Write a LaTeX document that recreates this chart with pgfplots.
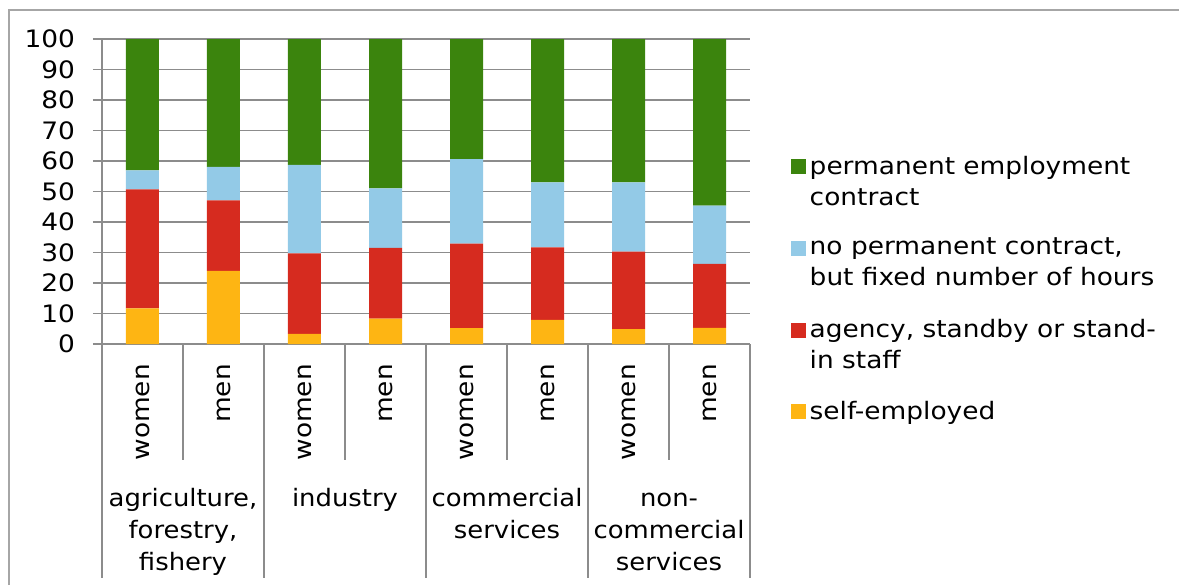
\documentclass[border=0pt]{standalone}
\usepackage{pgfplots}
\pgfplotsset{compat=1.18}
\usepackage{fontspec}
\setmainfont{DejaVu Sans}[FakeStretch=1.1]
\usepackage{graphicx}
\definecolor{cperm}{HTML}{3B840D}
\definecolor{cnop}{HTML}{93CAE7}
\definecolor{cagen}{HTML}{D62B1F}
\definecolor{cself}{HTML}{FEB513}
\definecolor{gridc}{HTML}{8C8C8C}
\definecolor{framec}{HTML}{A6A6A6}
\pgfplotsset{
  sqtop/.style={legend image code/.code={\path[fill=none,draw=none] (0pt,-11.25pt) rectangle (7.5pt,11.25pt);\fill[##1] (0pt,3.75pt) rectangle (7.5pt,11.25pt);}},
  sqmid/.style={legend image code/.code={\fill[##1] (0pt,-3.75pt) rectangle (7.5pt,3.75pt);}},
}
\newcommand\grp[1]{\scalebox{0.98}[1]{\renewcommand\arraystretch{1}\begin{tabular}[t]{@{}c@{}}#1\end{tabular}}}
\begin{document}
\begin{tikzpicture}
\useasboundingbox (-51pt,-120.5pt) rectangle (538.5pt,172pt);
\begin{axis}[
  scale only axis,
  width=324pt, height=152.5pt,
  xmin=-0.5, xmax=7.5, ymin=0, ymax=100,
  ybar stacked, bar width=16.5pt,
  axis x line*=bottom, axis y line*=left,
  axis line style={gridc, line width=0.8pt},
  ytick={0,10,...,100},
  ymajorgrids, major grid style={gridc, line width=0.8pt},
  y tick style={gridc, line width=0.8pt},
  tick align=outside, major tick length=4.5pt,
  /pgf/number format/assume math mode=true,
  yticklabel style={font=\fontsize{12}{14}\selectfont, xshift=-5.5pt},
  xtick={0,...,7},
  xticklabels={women,men,women,men,women,men,women,men},
  x tick style={draw=none},
  xticklabel style={font=\fontsize{12}{14}\selectfont, rotate=90, anchor=east},
  xticklabel shift={2pt},
  clip=false,
  legend style={draw=none, at={(1.053,0.18)}, anchor=west,
    font=\fontsize{12}{15.5}\selectfont, row sep=11pt,
    cells={anchor=west, align=left}},
  reverse legend,
]
\addplot[fill=cself, draw=none, sqmid] coordinates {(0,11.7) (1,24.0) (2,3.3) (3,8.3) (4,5.2) (5,7.9) (6,4.9) (7,5.3)};
\addlegendentry{self-employed}
\addplot[fill=cagen, draw=none, sqtop] coordinates {(0,39.0) (1,23.1) (2,26.4) (3,23.2) (4,27.7) (5,23.8) (6,25.4) (7,21.0)};
\addlegendentry{agency, standby or stand-\\in staff}
\addplot[fill=cnop, draw=none, sqtop] coordinates {(0,6.2) (1,11.0) (2,29.0) (3,19.5) (4,27.7) (5,21.3) (6,22.7) (7,19.1)};
\addlegendentry{no permanent contract,\\but fixed number of hours}
\addplot[fill=cperm, draw=none, sqtop] coordinates {(0,43.1) (1,41.9) (2,41.3) (3,49.0) (4,39.4) (5,47.0) (6,47.0) (7,54.6)};
\addlegendentry{permanent employment\\contract}
% separators
\draw[gridc, line width=0.8pt] (axis cs:-0.5,0) -- ([yshift=-117pt]axis cs:-0.5,0);
\draw[gridc, line width=0.8pt] (axis cs:1.5,0) -- ([yshift=-117pt]axis cs:1.5,0);
\draw[gridc, line width=0.8pt] (axis cs:3.5,0) -- ([yshift=-117pt]axis cs:3.5,0);
\draw[gridc, line width=0.8pt] (axis cs:5.5,0) -- ([yshift=-117pt]axis cs:5.5,0);
\draw[gridc, line width=0.8pt] (axis cs:7.5,0) -- ([yshift=-117pt]axis cs:7.5,0);
\draw[gridc, line width=0.8pt] (axis cs:0.5,0) -- ([yshift=-58pt]axis cs:0.5,0);
\draw[gridc, line width=0.8pt] (axis cs:2.5,0) -- ([yshift=-58pt]axis cs:2.5,0);
\draw[gridc, line width=0.8pt] (axis cs:4.5,0) -- ([yshift=-58pt]axis cs:4.5,0);
\draw[gridc, line width=0.8pt] (axis cs:6.5,0) -- ([yshift=-58pt]axis cs:6.5,0);
\path[font=\fontsize{12}{16}\selectfont]
  ([yshift=-81pt]axis cs:0.5,0) node[anchor=base, inner sep=0pt] {\grp{agriculture,\\forestry,\\fishery}}
  ([yshift=-81pt]axis cs:2.5,0) node[anchor=base, inner sep=0pt] {\grp{industry}}
  ([yshift=-81pt]axis cs:4.5,0) node[anchor=base, inner sep=0pt] {\grp{commercial\\services}}
  ([yshift=-81pt]axis cs:6.5,0) node[anchor=base, inner sep=0pt] {\grp{non-\\commercial\\services}};
\end{axis}
\draw[framec, line width=1pt] (-46.5pt,-120.5pt) -- (-46.5pt,167pt) -- (538.5pt,167pt);
\end{tikzpicture}
\end{document}
